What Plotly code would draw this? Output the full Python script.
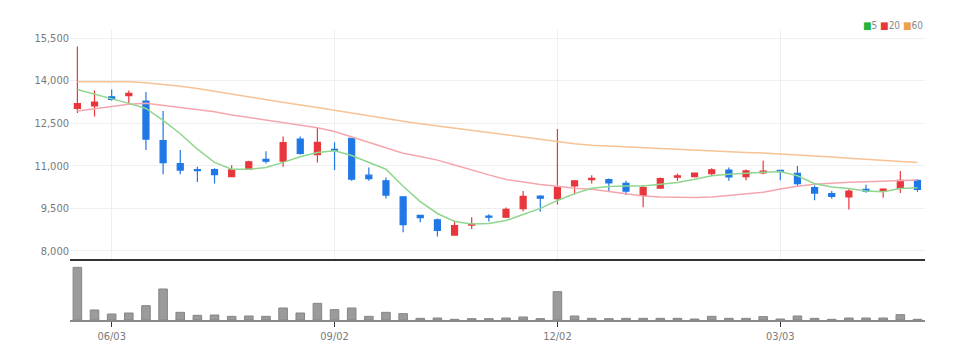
import pandas as pd
import plotly.graph_objects as go

# ---- data (weekly candles) ----
dates = pd.date_range("2024-05-20", periods=50, freq="W-MON").strftime("%Y-%m-%d").tolist()

opens = [13020, 13110, 13430, 13470, 13280, 11890, 11080, 10870, 10870, 10620,
         10880, 11230, 11160, 11940, 11390, 11580, 11970, 10670, 10470, 9910,
         9250, 9100, 8560, 8910, 9230, 9190, 9490, 9930, 9840, 10290,
         10510, 10510, 10380, 9960, 10210, 10600, 10620, 10720, 10850, 10620,
         10750, 10840, 10730, 10230, 10020, 9900, 10170, 10110, 10210, 10490]
highs = [15200, 13650, 13690, 13650, 13600, 12930, 11560, 10970, 10910, 11020,
         11180, 11510, 12030, 12030, 12360, 11830, 11990, 10940, 10590, 9930,
         9250, 9140, 9070, 9190, 9290, 9530, 10110, 9960, 12300, 10470,
         10670, 10550, 10470, 10310, 10590, 10730, 10750, 10910, 10940, 10870,
         11180, 10850, 10990, 10310, 10110, 10170, 10330, 10210, 10820, 10530]
lows = [12860, 12740, 13290, 13170, 11560, 10700, 10700, 10430, 10380, 10620,
        10850, 11080, 10970, 11390, 11120, 10850, 10470, 10470, 9850, 8660,
        9010, 8510, 8560, 8770, 9040, 9160, 9400, 9380, 9640, 9990,
        10380, 10110, 9970, 9540, 10210, 10470, 10590, 10680, 10470, 10490,
        10700, 10490, 10290, 9790, 9840, 9460, 10050, 9870, 10040, 10090]
closes = [13190, 13240, 13340, 13550, 11940, 11110, 10850, 10830, 10690, 10860,
          11140, 11160, 11820, 11440, 11830, 11550, 10530, 10550, 9970, 8930,
          9170, 8720, 8890, 8950, 9190, 9470, 9920, 9860, 10250, 10470,
          10560, 10400, 10110, 10230, 10550, 10650, 10740, 10860, 10610, 10820,
          10810, 10790, 10370, 10040, 9920, 10110, 10110, 10180, 10490, 10170]
volumes = [790, 150, 90, 105, 215, 465, 115, 70, 75, 55,
           60, 55, 180, 105, 250, 155, 180, 55, 115, 95,
           25, 30, 10, 20, 20, 30, 45, 20, 425, 60,
           25, 20, 25, 25, 25, 25, 15, 55, 25, 25,
           50, 15, 60, 25, 10, 30, 30, 30, 80, 10]
ma5 = [13690, 13530, 13370, 13200, 13020, 12600, 12130, 11590, 11120, 10880,
       10880, 10940, 11120, 11320, 11470, 11530, 11360, 11120, 10880, 10280,
       9740, 9320, 9040, 8950, 8970, 9070, 9280, 9500, 9780, 10020,
       10210, 10270, 10290, 10290, 10350, 10410, 10530, 10650, 10700, 10730,
       10770, 10800, 10650, 10370, 10250, 10200, 10110, 10090, 10200, 10230]
ma20 = [12930, 13010, 13090, 13170, 13200, 13130, 13060, 12980, 12900, 12790,
        12700, 12610, 12520, 12430, 12340, 12210, 12020, 11820, 11620, 11440,
        11330, 11200, 11030, 10850, 10680, 10520, 10420, 10340, 10280, 10210,
        10170, 10100, 10010, 9940, 9900, 9880, 9880, 9900, 9960, 10010,
        10070, 10180, 10280, 10350, 10390, 10420, 10440, 10460, 10480, 10500]
ma60 = [13960, 13960, 13960, 13960, 13930, 13870, 13800, 13720, 13620, 13520,
        13430, 13330, 13240, 13140, 13050, 12950, 12860, 12760, 12660, 12570,
        12480, 12400, 12320, 12240, 12160, 12080, 12000, 11920, 11850, 11780,
        11720, 11690, 11660, 11630, 11600, 11580, 11560, 11530, 11500, 11470,
        11450, 11420, 11390, 11350, 11310, 11270, 11230, 11190, 11150, 11120]

tick_dates = ["2024-06-03", "2024-09-02", "2024-12-02", "2025-03-03"]
tick_labels = ["06/03", "09/02", "12/02", "03/03"]
price_ticks = [8000, 9500, 11000, 12500, 14000, 15500]

RED = "#e8363d"
BLUE = "#1f78e6"
FONT = "DejaVu Sans Condensed, Roboto, sans-serif"

fig = go.Figure()
fig.add_trace(go.Scatter(x=dates, y=ma60, mode="lines", line=dict(color="#f7c294", width=1.5),
                         xaxis="x", yaxis="y", showlegend=False, hoverinfo="skip"))
fig.add_trace(go.Scatter(x=dates, y=ma20, mode="lines", line=dict(color="#f5a5ad", width=1.5),
                         xaxis="x", yaxis="y", showlegend=False, hoverinfo="skip"))
fig.add_trace(go.Scatter(x=dates, y=ma5, mode="lines", line=dict(color="#8fd68f", width=1.5),
                         xaxis="x", yaxis="y", showlegend=False, hoverinfo="skip"))
fig.add_trace(go.Candlestick(
    x=dates, open=opens, high=highs, low=lows, close=closes,
    increasing=dict(line=dict(color=RED, width=1.2), fillcolor=RED),
    decreasing=dict(line=dict(color=BLUE, width=1.2), fillcolor=BLUE),
    whiskerwidth=0, xaxis="x", yaxis="y", showlegend=False))
fig.add_trace(go.Bar(x=dates, y=volumes, width=0.5, xaxis="x2", yaxis="y2",
                     marker=dict(color="#9b9b9b", line=dict(color="#858585", width=1)),
                     showlegend=False))

xr = [-0.43, 49.44]
fig.update_layout(
    width=960, height=352,
    margin=dict(l=62, r=43, t=22, b=40, autoexpand=False),
    paper_bgcolor="white", plot_bgcolor="white",
    font=dict(family=FONT, size=11, color="#808080"),
    boxgap=0.5,
    xaxis=dict(type="category", domain=[0, 1], anchor="y", range=xr, automargin=False,
               showgrid=True, gridcolor="#efefef", gridwidth=1,
               tickvals=tick_dates, ticktext=tick_labels, showticklabels=False,
               showline=True, linecolor="#333333", linewidth=2, ticks="",
               rangeslider=dict(visible=False), fixedrange=True),
    yaxis=dict(domain=[0.2103, 1], anchor="x", range=[7716, 15784], automargin=False,
               tickvals=price_ticks, tickformat=",", showgrid=True, gridcolor="#efefef",
               gridwidth=1, zeroline=False, showline=False, ticks="",
               tickfont=dict(family=FONT, size=11, color="#7a7a7a")),
    xaxis2=dict(type="category", domain=[0, 1], anchor="y2", range=xr, automargin=False,
                showgrid=False, tickvals=tick_dates, ticktext=tick_labels,
                showline=True, linecolor="#8a8a8a", linewidth=2,
                ticks="outside", ticklen=5, tickcolor="#333333", tickwidth=1,
                tickfont=dict(family=FONT, size=11, color="#7a7a7a")),
    yaxis2=dict(domain=[0, 0.2], anchor="x2", range=[0, 870], showgrid=False, automargin=False,
                showticklabels=False, zeroline=False, showline=False, ticks=""),
    annotations=[dict(
        xref="paper", yref="paper", x=1.0, y=1.017, xanchor="right", yanchor="middle",
        showarrow=False, font=dict(family=FONT, size=10, color="#888888"),
        text=('<span style="color:#22b33a">■</span>5 '
              '<span style="color:#e8363d">■</span>20 '
              '<span style="color:#f0a04a">■</span>60'))],
)

fig.write_html("out.html")
